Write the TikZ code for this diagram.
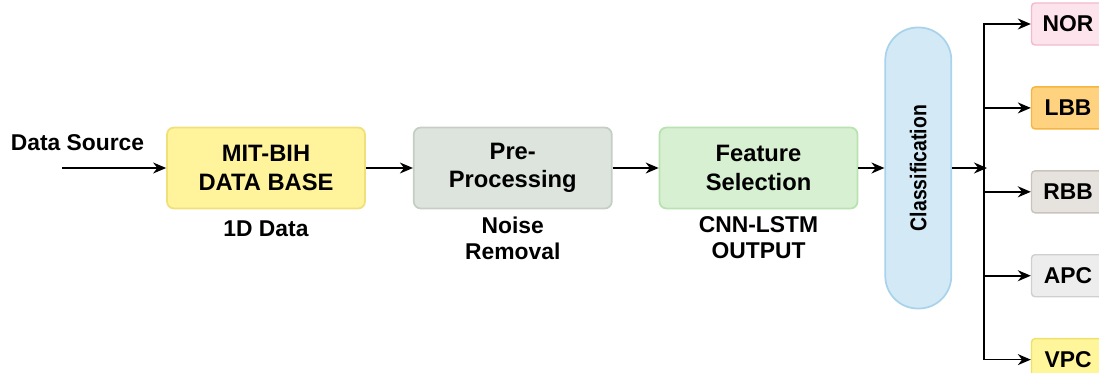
\documentclass[tikz,border=0pt]{standalone}
\usepackage{fontspec}
\setmainfont{Liberation Sans}
\usepackage{graphicx}
\usepackage{xcolor}
\usepackage{tikz}
\usetikzlibrary{positioning,arrows.meta}
\definecolor{dbfill}{HTML}{FFF49C}
\definecolor{dbdraw}{HTML}{F0E07A}
\definecolor{prefill}{HTML}{DDE4DD}
\definecolor{predraw}{HTML}{C5CEC5}
\definecolor{featfill}{HTML}{D8F0D2}
\definecolor{featdraw}{HTML}{B9E2B0}
\definecolor{clsfill}{HTML}{D3EAF6}
\definecolor{clsdraw}{HTML}{A9D3EA}
\definecolor{norfill}{HTML}{FDE3EC}
\definecolor{nordraw}{HTML}{F2BACD}
\definecolor{lbbfill}{HTML}{FFD27F}
\definecolor{lbbdraw}{HTML}{F6B540}
\definecolor{rbbfill}{HTML}{E6E3DF}
\definecolor{rbbdraw}{HTML}{C9C3BC}
\definecolor{apcfill}{HTML}{EDEDED}
\definecolor{apcdraw}{HTML}{CFCFCF}
\definecolor{vpcfill}{HTML}{FFF59A}
\definecolor{vpcdraw}{HTML}{EFE06A}
\tikzset{
  stagebox/.style={rounded corners=4pt, line width=1pt, align=center,
    minimum width=3.96cm, minimum height=1.62cm,
    font=\fontsize{13.5}{16}\selectfont\bfseries},
  classbox/.style={rounded corners=2pt, line width=0.8pt, anchor=center,
    minimum width=1.46cm, minimum height=0.84cm,
    font=\fontsize{13}{15}\selectfont\bfseries},
  notetext/.style={align=center, font=\fontsize{13}{14.8}\selectfont\bfseries},
  flowarrow/.style={-{Stealth[length=2.6mm,width=2.2mm]}, line width=0.9pt}
}
\begin{document}
\begin{tikzpicture}[node distance=0.96cm and 0.96cm]
    \useasboundingbox (0,0) rectangle (21.98,7.44);
    \node[notetext] (src) at (1.55,4.58) {Data Source};
    \coordinate (start) at (1.24,4.08);
    \node[stagebox, fill=dbfill, draw=dbdraw] (db) at (5.32,4.08) {MIT-BIH\\DATA BASE};
    \node[stagebox, fill=prefill, draw=predraw, right=0.94cm of db] (pre) {Pre-\\Processing};
    \node[stagebox, fill=featfill, draw=featdraw, right=0.92cm of pre] (feat) {Feature\\Selection};
    \node[rotate=90, minimum width=5.62cm, minimum height=1.32cm, rounded corners=0.65cm,
      line width=1pt, fill=clsfill, draw=clsdraw, font=\fontsize{13}{15}\selectfont\bfseries,
      right=0.52cm of feat, anchor=north] (cls) {\scalebox{0.85}[1]{Classification}};
    \coordinate (split) at (19.68,4.08);

    \node[notetext, below=0.1cm of db] (dbnote) {1D Data};
    \node[notetext, below=0.02cm of pre] (prenote) {Noise\\Removal};
    \node[notetext, below=0.02cm of feat] (featnote) {CNN-LSTM\\OUTPUT};

    \node[classbox, fill=norfill, draw=nordraw] (nor) at (21.36,6.96) {NOR};
    \node[classbox, fill=lbbfill, draw=lbbdraw, below=0.81cm of nor] (lbb) {LBB};
    \node[classbox, fill=rbbfill, draw=rbbdraw, below=0.81cm of lbb] (rbb) {RBB};
    \node[classbox, fill=apcfill, draw=apcdraw, below=0.81cm of rbb] (apc) {APC};
    \node[classbox, fill=vpcfill, draw=vpcdraw, below=0.81cm of apc] (vpc) {VPC};

    \draw[flowarrow] (start) -- (db);
    \draw[flowarrow] (db) -- (pre);
    \draw[flowarrow] (pre) -- (feat);
    \draw[flowarrow] (feat) -- (cls);
    \draw[flowarrow] (cls) -- ([xshift=0.06cm]split);
    \foreach \cl in {nor,lbb,rbb,apc,vpc}
      \draw[flowarrow] (split) |- (\cl);
  \end{tikzpicture}
\end{document}
